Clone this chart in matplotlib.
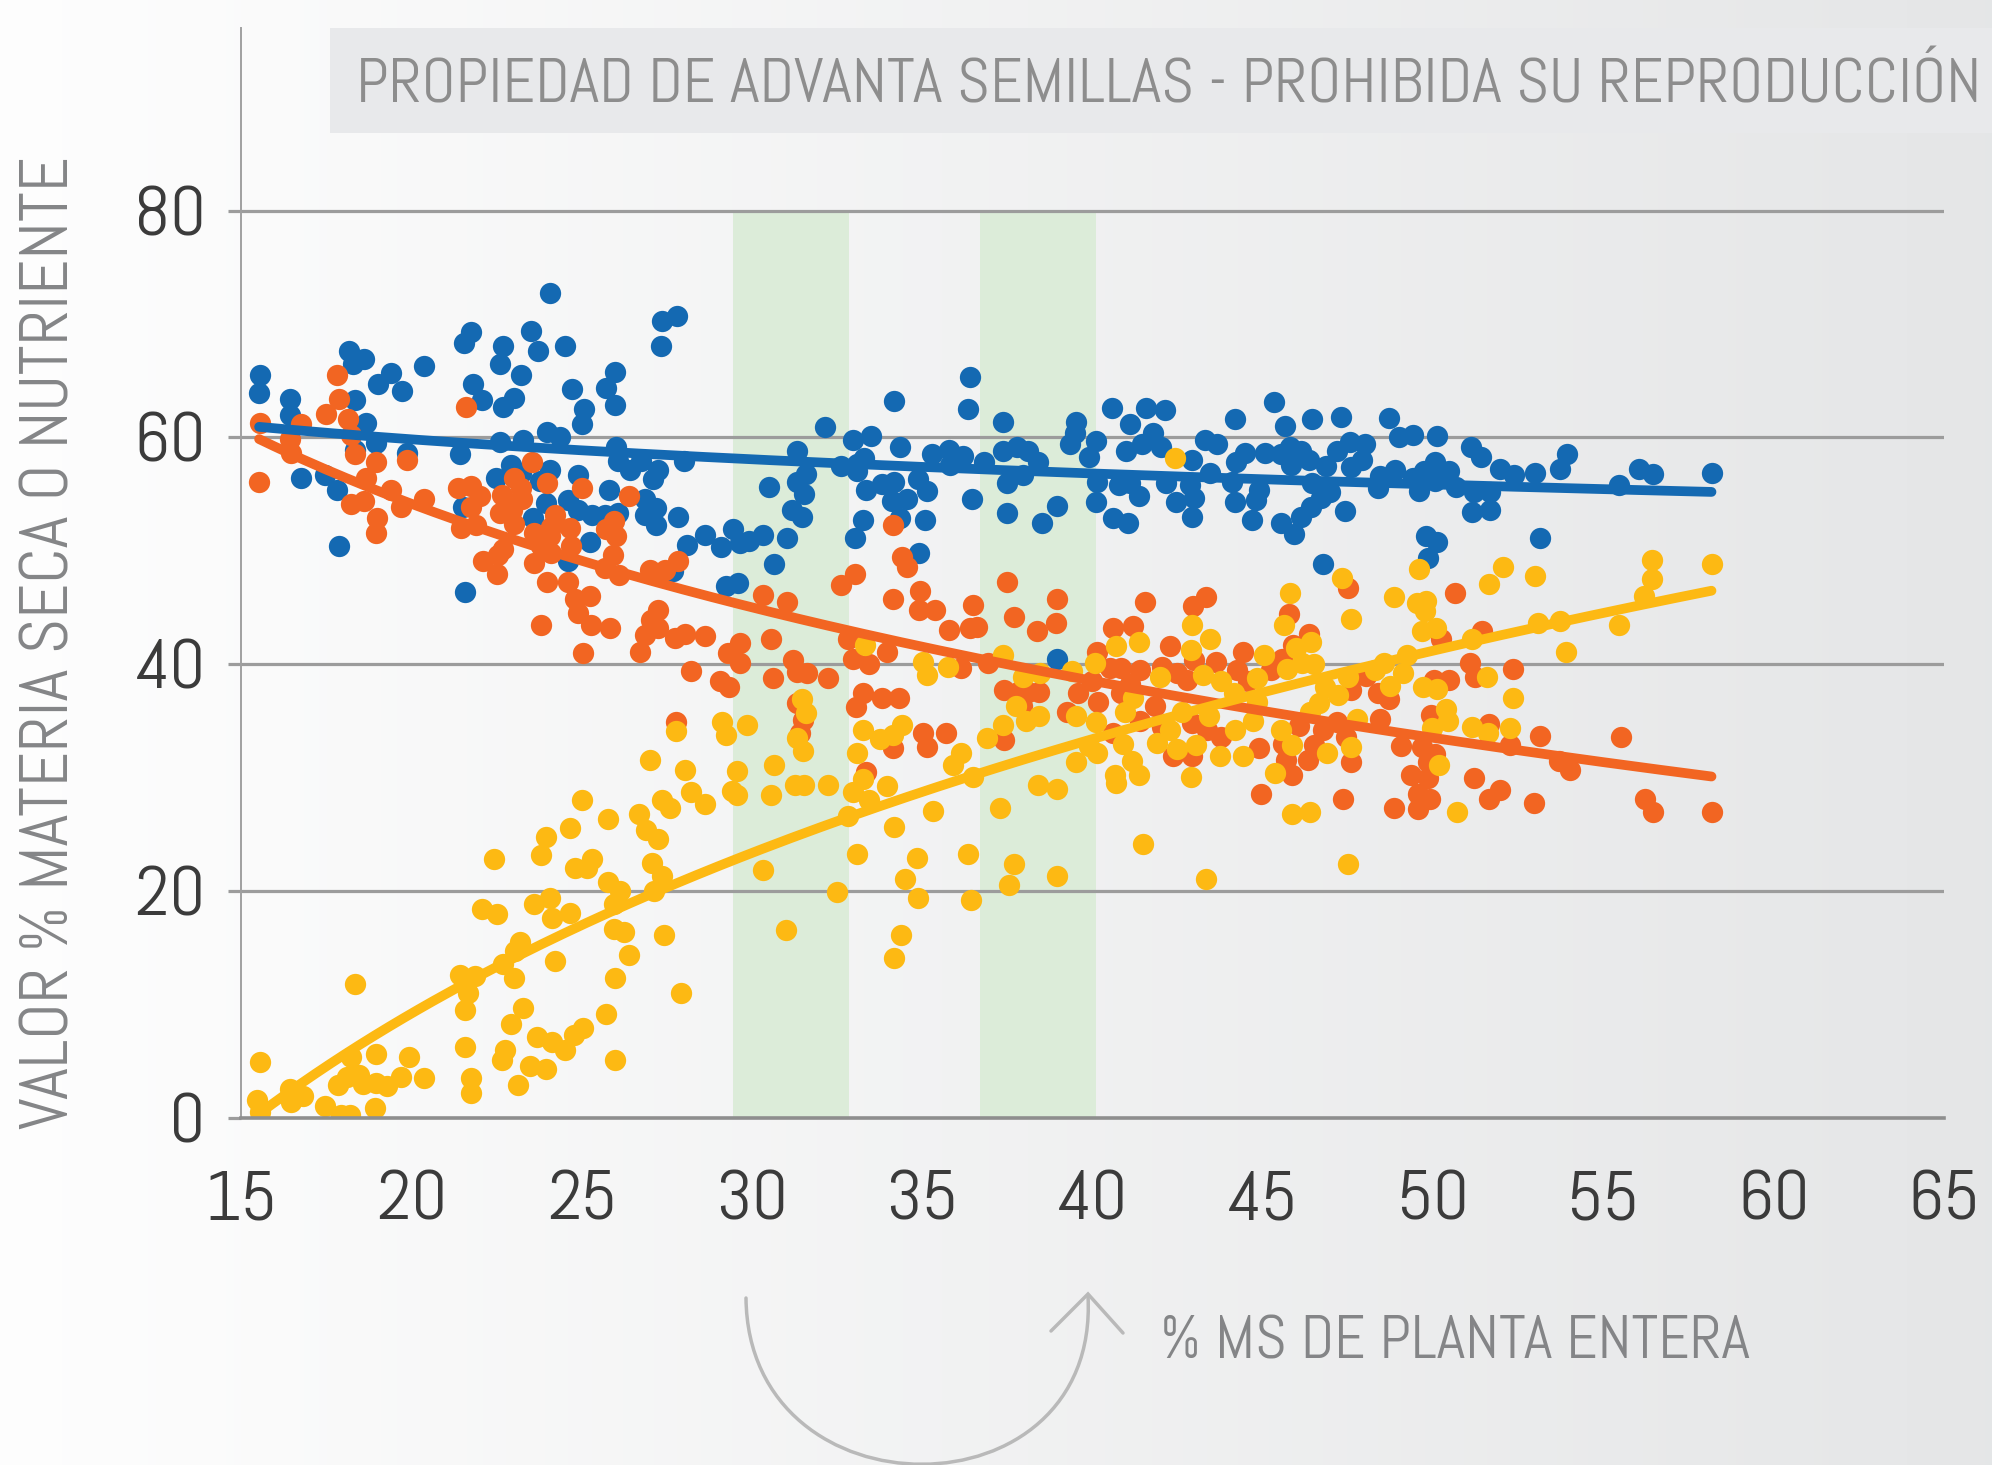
import numpy as np
import matplotlib.pyplot as plt
from matplotlib.path import Path
from matplotlib.patches import PathPatch, Rectangle

# --- data ----------------------------------------------------------------
blue_x = [15.56, 15.52, 16.42, 16.42, 18.15, 18.28, 18.6, 18.35, 18.66, 19.0, 19.4, 19.72, 20.37,
          18.33, 18.94, 19.85, 16.76, 17.47, 17.82, 17.88, 21.42, 21.54, 21.75, 21.58, 21.81, 22.07,
          22.6, 22.67, 22.67, 23.0, 23.2, 23.5, 23.7, 24.07, 24.5, 24.7, 25.05, 25.0, 25.7, 25.98,
          25.98, 27.36, 27.8, 27.33, 22.6, 23.27, 23.99, 24.35, 26.0, 26.06, 26.4, 26.75, 27.24,
          27.1, 28.0, 22.93, 22.49, 23.22, 23.76, 24.06, 24.9, 24.6, 24.9, 25.3, 25.67, 26.06,
          23.96, 23.57, 25.8, 26.85, 27.19, 26.85, 27.19, 27.82, 25.23, 28.1, 24.6, 27.68, 21.5,
          28.62, 29.1, 29.43, 29.65, 29.92, 30.31, 30.64, 29.23, 29.58, 30.5, 31.04, 31.18, 31.48,
          31.31, 31.31, 31.58, 31.53, 32.15, 32.6, 32.97, 33.49, 33.07, 33.3, 33.09, 33.35, 33.27,
          33.02, 33.83, 34.17, 34.11, 34.54, 34.34, 34.16, 34.34, 34.88, 35.15, 35.08, 34.91,
          35.28, 35.79, 35.81, 36.2, 36.4, 36.35, 36.45, 36.81, 37.36, 37.38, 37.79, 38.11, 37.95,
          38.41, 37.48, 37.48, 38.51, 38.97, 38.97, 39.5, 39.48, 39.34, 40.09, 39.9, 40.12, 40.09,
          40.56, 41.1, 41.57, 42.13, 41.78, 41.44, 42.01, 40.98, 40.78, 41.1, 41.36, 40.61, 41.03,
          42.15, 42.45, 42.91, 42.99, 42.86, 42.93,
          43.31, 43.67, 43.46, 44.17, 44.49, 44.2, 44.11, 44.17, 44.67, 44.88, 44.8, 45.07, 45.33,
          45.65, 45.54, 45.8, 45.82, 46.11, 46.35, 45.54, 45.91, 46.11, 46.42, 46.72, 46.98, 46.45,
          46.45, 46.87, 46.77, 47.29, 47.19, 47.56, 48.0, 47.92, 47.58, 47.42, 48.71, 48.99, 49.42,
          50.11, 48.43, 48.39, 48.89, 49.4, 49.59, 49.73, 50.05, 50.07, 50.46, 50.68, 49.79, 50.13,
          49.86, 51.12, 51.4, 51.2, 51.67, 51.14, 51.67, 51.96, 52.38, 53.01, 53.15, 53.74, 53.95,
          55.45, 56.05, 56.47, 58.18]
blue_y = [65.5, 63.9, 63.4, 62.0, 67.6, 66.5, 66.9, 63.3, 61.3, 64.7, 65.7, 64.1, 66.3,
          58.9, 59.5, 58.6, 56.4, 56.7, 55.4, 50.4, 58.5, 68.3, 69.3, 46.4, 64.7, 63.3,
          66.5, 68.1, 62.7, 63.5, 65.5, 69.4, 67.6, 72.7, 68.1, 64.3, 62.5, 61.2, 64.4, 65.8,
          62.9, 70.3, 70.7, 68.1, 59.6, 59.8, 60.5, 60.0, 59.2, 57.9, 57.1, 57.9, 57.1,
          56.3, 57.9, 57.6, 56.4, 56.9, 56.2, 57.1, 56.7, 54.5, 53.6, 53.2, 53.2, 53.3,
          54.2, 52.9, 55.4, 54.6, 53.8, 53.2, 52.3, 53.0, 50.8, 50.5, 49.1, 48.2, 53.9,
          51.4, 50.3, 51.9, 50.7, 50.9, 51.4, 48.8, 46.9, 47.2, 55.6, 51.1, 53.6, 53.0,
          58.8, 56.1, 56.8, 55.0, 60.9, 57.5, 59.8, 60.1, 57.7, 58.2, 57.0, 55.4, 52.7,
          51.1, 55.9, 56.1, 54.4, 54.6, 52.9, 63.2, 59.2, 56.3, 55.3, 52.7, 49.8,
          58.5, 58.9, 57.6, 58.4, 65.3, 62.5, 54.6, 57.8, 61.4, 58.8, 59.2, 58.8, 56.7,
          57.8, 56.0, 53.3, 52.5, 54.0, 40.5, 61.4, 60.4, 59.4, 59.7, 58.3, 56.1, 54.3,
          62.6, 61.2, 62.6, 62.4, 60.4, 59.4, 59.2, 58.8, 55.8, 56.0, 54.8, 52.9, 52.5,
          56.0, 54.3, 53.0, 54.7, 55.8, 58.0,
          59.8, 59.4, 56.9, 61.6, 58.6, 57.8, 56.1, 54.3, 52.7, 55.4, 54.5, 58.6, 63.1,
          61.0, 58.5, 59.2, 57.6, 58.8, 58.0, 52.5, 51.5, 53.0, 53.9, 54.7, 55.2, 56.0,
          61.6, 57.5, 48.8, 61.8, 58.8, 59.6, 59.4, 58.0, 57.4, 53.5, 61.7, 60.0, 60.2,
          60.1, 56.6, 55.5, 57.1, 56.4, 55.3, 57.0, 57.8, 56.2, 57.0, 55.6, 51.3, 50.8,
          49.4, 59.2, 58.3, 55.2, 55.2, 53.4, 53.6, 57.2, 56.7, 56.9, 51.1, 57.2, 58.5,
          55.8, 57.2, 56.8, 56.9]

orange_x = [15.54, 15.52, 16.42, 16.45, 16.76, 17.48, 17.82, 17.87, 18.13, 18.23, 18.33, 18.95,
            18.67, 18.23, 18.59, 18.99, 18.94, 19.4, 19.7, 19.85, 20.36, 21.6, 21.36, 21.75, 22.0,
            21.75, 21.46, 21.9, 22.64, 23.0, 23.2, 23.25, 22.59, 22.95, 23.0, 22.68, 22.54, 22.1,
            22.52, 23.54, 23.99, 23.6, 23.81, 24.2, 24.1, 24.06, 24.1, 24.64, 24.69, 25.01, 26.39,
            23.58, 23.98, 24.59, 24.79, 25.23, 24.89, 25.28, 25.82, 23.81, 25.03, 25.72, 25.94,
            26.01, 25.9, 25.67, 26.09, 26.99, 27.43, 27.82, 27.24, 27.04, 27.24, 26.85, 26.7,
            27.73, 28.02, 28.22, 27.76,
            34.15, 34.39, 34.54, 32.6, 33.02, 30.31, 31.04, 34.15, 34.93, 34.91, 35.37, 35.79,
            36.4, 36.6, 36.5, 37.48, 37.69, 38.38, 38.94, 38.97, 28.62, 29.65, 29.28, 29.65, 29.06,
            29.33, 30.57, 30.6, 31.21, 31.31, 31.6, 32.24, 32.83, 32.97, 33.44, 33.95, 33.25, 33.04,
            33.81, 34.32, 31.31, 31.5, 31.41, 34.13, 35.01, 35.13, 35.71, 33.35, 36.14, 36.94,
            37.4, 37.82, 38.11, 38.43, 37.92, 37.4, 39.24, 39.56, 39.97, 40.17, 40.12, 40.61,
            41.18, 41.54, 40.51, 40.85, 41.39, 41.1, 40.85, 42.03, 42.27, 42.47, 42.76, 42.94,
            42.99, 41.83, 42.03, 40.61, 41.39, 42.91, 42.37, 42.91,
            43.34, 47.5, 50.65, 45.77, 46.35, 45.9, 44.43, 43.62, 44.23, 44.57, 45.25, 45.56,
            48.03, 47.58, 48.37, 48.71, 48.45, 50.02, 50.47, 51.1, 51.23, 52.36, 49.95, 51.65,
            51.44, 50.23, 43.36, 43.78, 46.07, 46.77, 47.19, 47.45, 47.58, 45.58, 45.67, 46.33,
            46.51, 45.86, 44.88, 44.95, 47.35, 48.85, 49.06, 49.68, 50.07, 49.84, 49.34, 49.84,
            49.55, 49.92, 49.55, 51.2, 51.65, 51.98, 52.25, 53.14, 52.96, 53.69, 54.03, 55.53,
            56.24, 56.47, 58.18]
orange_y = [61.3, 56.1, 59.9, 58.6, 61.2, 62.1, 65.5, 63.4, 61.6, 60.2, 58.5, 57.8,
            56.4, 54.1, 54.4, 52.9, 51.6, 55.4, 53.9, 58.0, 54.6, 62.7, 55.5, 55.7, 54.8,
            53.9, 52.0, 52.3, 54.9, 56.4, 55.5, 54.6, 53.3, 53.6, 52.4, 50.2, 49.6, 49.1,
            48.0, 57.8, 56.0, 51.6, 50.4, 53.2, 52.1, 51.3, 49.8, 52.0, 50.4, 55.5, 54.8,
            48.9, 47.3, 47.3, 45.8, 46.0, 44.5, 43.5, 43.2, 43.5, 41.0, 51.9, 52.6,
            51.3, 49.6, 48.5, 47.9, 48.3, 48.3, 49.1, 44.8, 43.9, 43.2, 42.6, 41.1,
            42.3, 42.7, 39.4, 34.9,
            52.3, 49.5, 48.6, 47.0, 48.0, 46.1, 45.5, 45.8, 46.5, 44.8, 44.8, 43.0,
            43.2, 43.3, 45.2, 47.3, 44.2, 42.9, 43.6, 45.8, 42.5, 41.9, 41.0, 40.1, 38.5,
            38.0, 42.2, 38.8, 40.4, 39.3, 39.2, 38.8, 42.2, 40.5, 40.0, 41.1, 37.5, 36.2,
            37.0, 37.0, 36.6, 35.1, 33.9, 32.6, 33.9, 32.7, 33.9, 30.5, 39.7, 40.1,
            37.7, 37.6, 37.6, 37.6, 36.3, 33.3, 35.8, 37.5, 38.5, 36.7, 41.1, 43.2,
            43.4, 45.5, 39.7, 39.7, 39.5, 38.3, 37.5, 39.8, 41.6, 39.2, 38.6, 45.1,
            40.4, 36.3, 34.5, 33.9, 35.0, 34.8, 31.9, 31.9,
            45.9, 46.7, 46.3, 44.4, 42.7, 41.7, 41.1, 40.2, 39.5, 38.5, 39.5, 40.5,
            39.0, 37.7, 37.5, 36.9, 35.2, 38.6, 38.6, 40.1, 38.9, 39.6, 35.5, 34.7,
            42.9, 42.2, 34.2, 33.6, 34.6, 34.2, 34.9, 33.6, 31.4, 33.0, 31.6, 31.6,
            32.9, 30.2, 32.6, 28.6, 28.1, 27.3, 32.8, 32.7, 32.1, 31.4, 30.2, 30.0,
            28.6, 28.1, 27.2, 30.0, 28.1, 28.9, 32.9, 33.7, 27.8, 31.5, 30.7, 33.6,
            28.1, 26.96, 26.96]

yellow_x = [15.54, 15.47, 15.54, 16.42, 16.47, 16.81, 17.45, 17.84, 17.94, 18.18, 18.11, 18.23,
            18.35, 18.45, 18.57, 18.92, 18.95, 18.96, 19.29, 19.7, 19.91, 20.36, 21.41, 21.58,
            21.66, 21.58, 21.74, 21.74, 21.85, 22.07, 22.52, 22.42, 22.68, 22.73, 22.66, 22.93,
            23.01, 23.13, 23.19, 23.03, 23.27, 23.47, 23.6, 23.79, 23.96, 24.06, 24.12, 23.96,
            23.69, 24.13, 24.22, 24.5, 24.64, 24.64, 24.76, 24.79, 24.99, 25.03, 25.16, 25.3,
            25.7, 25.77, 25.77, 25.94, 25.96, 25.96, 26.11, 25.94, 26.24, 26.39, 26.68, 26.87,
            26.99, 27.06, 27.24, 27.35, 27.36, 27.58, 27.11, 27.41, 27.9, 27.76, 28.02, 28.2,
            33.32, 35.03, 35.13, 35.76, 37.36, 37.95, 38.46, 39.39, 40.07, 40.69, 41.37, 42.91,
            42.88, 41.98, 41.2, 40.95, 40.09, 39.51, 38.44, 38.04, 37.75, 37.36, 36.89, 36.15,
            35.91, 36.5, 35.3, 34.39, 34.13, 33.76, 33.25, 33.07, 33.95, 33.25, 32.97, 33.44,
            32.83, 34.17, 33.07, 34.83, 34.49, 34.88, 36.35, 36.43, 37.28, 37.7, 37.55, 38.97,
            38.41, 38.95, 39.51, 40.12, 39.9, 40.66, 40.69, 40.88, 41.15, 41.37, 41.47, 41.9,
            42.27, 42.49, 43.04, 42.88, 42.62, 29.84, 29.11, 29.23, 31.46, 31.58, 31.31, 31.49,
            30.64, 29.55, 29.4, 29.55, 30.57, 31.26, 31.53, 32.22, 28.62, 30.31, 32.48, 31.0,
            34.37, 34.17, 42.42,
            47.32, 49.59, 52.07, 52.99, 56.42, 56.42, 58.18, 51.65, 45.8, 48.85, 49.53, 49.78,
            49.76, 47.59, 45.61, 56.19, 55.45, 53.9, 53.09, 53.74, 51.14, 50.1, 49.67, 43.44,
            45.04, 45.98, 46.43, 46.51, 45.72, 46.14, 44.83, 43.78, 43.25, 44.15, 44.83, 46.66,
            47.22, 46.82, 47.5, 48.29, 48.55, 49.23, 49.11, 48.74, 49.71, 50.13, 51.6, 52.36,
            50.39, 50.44, 49.97, 51.14, 51.62, 52.25, 50.18, 50.7, 43.41, 44.18, 44.72, 45.54,
            45.86, 46.9, 47.58, 47.77, 43.73, 44.41, 45.37, 45.86, 46.38, 47.5, 43.34, 46.4]
yellow_y = [4.9, 1.6, 0.56, 2.6, 1.4, 1.9, 1.06, 2.9, 0.3, 0.3, 3.6, 5.4,
            11.8, 3.8, 3.0, 0.85, 3.06, 5.6, 2.8, 3.6, 5.4, 3.5, 12.6, 9.5,
            11.0, 6.3, 3.5, 2.2, 12.5, 18.4, 18.0, 22.8, 13.6, 6.0, 5.1, 8.3,
            12.3, 2.9, 15.5, 14.7, 9.7, 4.6, 18.9, 23.2, 24.8, 19.4, 17.6, 4.3,
            7.1, 6.7, 13.8, 6.0, 25.6, 18.05, 7.3, 22.0, 28.0, 7.9, 22.0, 22.8,
            9.2, 26.4, 20.8, 16.7, 12.3, 5.1, 20.0, 18.9, 16.4, 14.4, 26.8, 25.4,
            31.6, 22.5, 24.6, 28.0, 21.3, 27.3, 20.05, 16.1, 11.0, 34.1, 30.7, 28.7,
            41.7, 40.2, 39.1, 39.8, 40.8, 38.9, 39.2, 39.4, 40.1, 41.6, 42.0, 43.5,
            41.3, 38.9, 37.0, 35.8, 34.9, 35.4, 35.4, 35.0, 36.3, 34.66, 33.5, 32.2,
            31.1, 30.1, 27.1, 34.66, 33.8, 33.4, 34.2, 32.2, 29.3, 29.9, 28.7, 28.0,
            26.6, 25.7, 23.25, 22.9, 21.05, 19.4, 23.25, 19.2, 27.3, 22.4, 20.5, 21.3,
            29.4, 29.0, 31.4, 32.2, 32.8, 30.25, 29.5, 33.0, 31.5, 30.2, 24.2, 33.1,
            34.2, 32.5, 32.9, 30.1, 35.8, 34.66, 34.9, 33.8, 36.9, 35.7, 33.5, 32.4,
            31.1, 30.6, 28.8, 28.5, 28.5, 29.4, 29.4, 29.4, 27.7, 21.9, 19.96, 16.6,
            16.1, 14.1, 58.2,
            47.6, 48.4, 48.6, 47.8, 49.2, 47.5, 48.8, 47.1, 46.3, 45.9, 45.4, 45.6,
            44.7, 44.0, 43.5, 46.0, 43.5, 41.1, 43.6, 43.8, 42.2, 43.2, 42.9, 42.2,
            40.8, 41.4, 42.0, 40.0, 39.6, 40.1, 38.8, 38.5, 39.1, 37.5, 36.7, 36.6,
            37.3, 38.0, 38.9, 39.5, 40.1, 40.8, 39.2, 38.1, 38.0, 37.8, 38.9, 37.0,
            36.1, 35.0, 34.4, 34.5, 33.9, 34.4, 31.1, 26.96, 35.4, 34.2, 35.0, 34.2,
            32.9, 32.2, 32.7, 35.2, 31.9, 31.9, 30.4, 26.8, 26.96, 22.4, 21.05, 35.8]

x_ticks = [15, 20, 25, 30, 35, 40, 45, 50, 55, 60, 65]
y_ticks = [0, 20, 40, 60, 80]
bands = [(29.45, 32.85), (36.7, 40.1)]

c_blue = "#1469b2"
c_orange = "#f26522"
c_yellow = "#fdb913"
grey_text = "#848587"
grid_col = "#9c9c9c"

plt.rcParams["font.family"] = ["Abel", "DejaVu Sans"]

W, H = 1992, 1465
fig = plt.figure(figsize=(W / 100, H / 100), dpi=100)

# background gradient, white on the left to light grey on the right
bg = fig.add_axes([0, 0, 1, 1], zorder=-10)
grad = np.linspace(0, 1, 256).reshape(1, -1)
left_c = np.array([0.995, 0.995, 0.995])
right_c = np.array([0.898, 0.902, 0.906])
img = left_c[None, None, :] * (1 - grad[..., None]) + right_c[None, None, :] * grad[..., None]
bg.imshow(img, aspect="auto", extent=[0, 1, 0, 1])
bg.set_axis_off()

ax = fig.add_axes([241.4 / W, 1 - 1118 / H, (1943.7 - 241.4) / W, (1118 - 28) / H])
ax.set_facecolor("none")
ax.set_xlim(15, 65)
ax.set_ylim(0, 96.1)

for lo, hi in bands:
    ax.fill_between([lo, hi], 0, 80, color="#dcecd9", lw=0, zorder=0)

for yv in y_ticks[1:]:
    ax.axhline(yv, color=grid_col, lw=2.3, zorder=1)

series = [(blue_x, blue_y, c_blue), (orange_x, orange_y, c_orange), (yellow_x, yellow_y, c_yellow)]
for xs, ys, col in series:
    ax.scatter(xs, ys, s=235, color=col, lw=0, zorder=3)

# logarithmic trend lines fitted to each series
for xs, ys, col in series:
    xs = np.asarray(xs)
    b, a = np.polyfit(np.log(xs), ys, 1)
    xx = np.linspace(xs.min(), xs.max(), 200)
    ax.plot(xx, a + b * np.log(xx), color=col, lw=7, solid_capstyle="round", zorder=4)

for side in ["top", "right"]:
    ax.spines[side].set_visible(False)
ax.spines["left"].set_color("#a0a0a0")
ax.spines["left"].set_linewidth(1.4)
ax.spines["bottom"].set_color("#8e8e8e")
ax.spines["bottom"].set_linewidth(2.6)
ax.spines["bottom"].set_zorder(5)

ax.set_xticks(x_ticks)
ax.set_yticks(y_ticks)
ax.tick_params(axis="y", length=9.5, width=2.3, color=grid_col, pad=16,
               labelsize=51, labelcolor="#3b3b3b")
ax.tick_params(axis="x", length=0, pad=38, labelsize=51, labelcolor="#3b3b3b")

# overlay in figure pixels for the decorations
ov = fig.add_axes([0, 0, 1, 1], zorder=10)
ov.set_xlim(0, W)
ov.set_ylim(H, 0)
ov.set_axis_off()
ov.patch.set_alpha(0)

ov.add_patch(Rectangle((330, 28), W - 330, 105, color="#e8e9eb", lw=0))
ov.text(356, 87, "PROPIEDAD DE ADVANTA SEMILLAS - PROHIBIDA SU REPRODUCCIÓN",
        fontsize=45.7, color="#8d8d8d", va="center", ha="left")

ov.text(52, 643, "VALOR % MATERIA SECA O NUTRIENTE", rotation=90,
        fontsize=49, color=grey_text, va="center", ha="center")
ov.text(1160, 1343, "% MS DE PLANTA ENTERA", fontsize=44, color=grey_text,
        va="center", ha="left")

# curved arrow under the x axis
verts = [(746, 1298), (748, 1520), (1100, 1520), (1088, 1296)]
arc = Path(verts, [Path.MOVETO, Path.CURVE4, Path.CURVE4, Path.CURVE4])
ov.add_patch(PathPatch(arc, fill=False, color="#b9b9b9", lw=2.5, capstyle="round"))
ov.plot([1051, 1088, 1123], [1331, 1294, 1333], color="#b9b9b9", lw=2.5,
        solid_capstyle="round", solid_joinstyle="miter")

fig.savefig("out.png", dpi=100)
